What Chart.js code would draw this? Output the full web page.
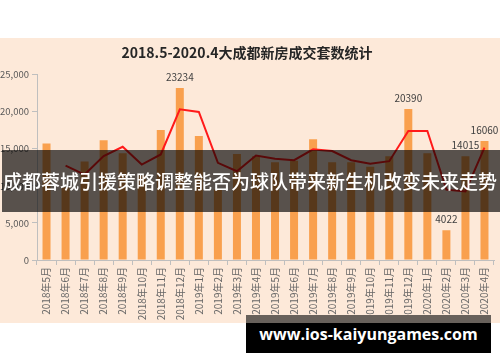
<!DOCTYPE html>
<html>
<head>
<meta charset="utf-8">
<script src="https://cdn.jsdelivr.net/npm/chart.js@4"></script>
<style>
  html,body{margin:0;padding:0;background:#fff;width:500px;height:362px;overflow:hidden;}
  #panel{position:absolute;left:0;top:38px;width:500px;height:285px;background:#fde9d9;}
  #banner{position:absolute;left:2px;top:150px;width:498px;height:62px;background:rgba(0,0,0,0.65);
    color:#fff;font:500 19px "Noto Sans CJK SC",sans-serif;line-height:62px;white-space:nowrap;overflow:hidden;padding-left:1px;}
  #site{position:absolute;left:246px;top:315px;width:245px;height:38px;background:#000;}
  #site:before{content:"";position:absolute;left:0;top:0;width:100%;height:8px;background:#68615b;}
  #site span{position:absolute;left:0;right:0;top:8px;bottom:0;text-align:center;line-height:30px;
    color:#fff;font:bold 16px "Open Sans",sans-serif;}
</style>
</head>
<body>
<div id="panel"><canvas id="c"></canvas></div>
<div id="banner">成都蓉城引援策略调整能否为球队带来新生机改变未来走势</div>
<div id="site"><span>www.ios-kaiyungames.com</span></div>
<script>
const categories = [
  "2018年5月","2018年6月","2018年7月","2018年8月","2018年9月","2018年10月","2018年11月","2018年12月",
  "2019年1月","2019年2月","2019年3月","2019年4月","2019年5月","2019年6月","2019年7月","2019年8月",
  "2019年9月","2019年10月","2019年11月","2019年12月","2020年1月","2020年2月","2020年3月","2020年4月"
];
const salesUnits = [
  15740, 9800, 13300, 16150, 14400, 11400, 17540, 23234,
  16750, 9500, 14300, 14000, 13200, 13400, 16300, 13200,
  13200, 12600, 14020, 20390, 14400, 4022, 14015, 16060
];
const movingAvg = [
  null, 12750, 11530, 14020, 15290, 12890, 14250, 20350,
  19990, 13120, 11980, 14110, 13660, 13470, 14930, 14700,
  13470, 12980, 13340, 17410, 17410, 9500, 9250, 15160
];
const yTicks = [0, 5000, 10000, 15000, 20000, 25000];
const labeledIdx = [7, 19, 21, 22, 23];
const chartTitle = "2018.5-2020.4大成都新房成交套数统计";

const FONT = '"Noto Sans CJK SC", sans-serif';

const barLabels = {
  id: "barLabels",
  afterDatasetsDraw(chart){
    const meta = chart.getDatasetMeta(1);
    const ctx = chart.ctx;
    ctx.save();
    ctx.font = "10px " + FONT;
    ctx.fillStyle = "#404040";
    ctx.textAlign = "center";
    ctx.textBaseline = "middle";
    labeledIdx.forEach(i => {
      const bar = meta.data[i];
      ctx.fillText(String(salesUnits[i]), bar.x, bar.y - 11);
    });
    ctx.restore();
  }
};

new Chart(document.getElementById("c"), {
  data: {
    labels: categories,
    datasets: [
      {type:"line", label:"移动平均", data:movingAvg, borderColor:"#ff1a1a", borderWidth:2,
       pointRadius:0, tension:0, order:0},
      {type:"bar", label:"成交套数", data:salesUnits, backgroundColor:"#f9a04e",
       barPercentage:0.42, categoryPercentage:1, order:1}
    ]
  },
  options: {
    responsive:true, maintainAspectRatio:false, animation:false,
    layout:{padding:{left:0,right:6,top:0,bottom:0}},
    plugins:{
      legend:{display:false},
      tooltip:{enabled:false},
      title:{display:true, text:chartTitle, color:"#262626",
        font:{family:FONT, size:14, weight:"bold"}, padding:{top:6,bottom:14}}
    },
    scales:{
      x:{
        grid:{drawOnChartArea:false, drawTicks:true, tickLength:5, color:"#bfbfbf", offset:true},
        border:{display:true, color:"#bfbfbf"},
        ticks:{autoSkip:false, minRotation:90, maxRotation:90, padding:2, color:"#666",
          font:{family:FONT, size:10}},
        afterFit(s){ s.height = 63; }
      },
      y:{
        min:0, max:25000,
        grid:{drawOnChartArea:false, drawTicks:true, tickLength:5, color:"#bfbfbf"},
        border:{display:true, color:"#bfbfbf"},
        ticks:{padding:3, color:"#595959", font:{family:FONT, size:9.5}},
        afterBuildTicks(s){ s.ticks = yTicks.map(v => ({value:v})); },
        afterFit(s){ s.width = 37; }
      }
    }
  },
  plugins:[barLabels]
});
</script>
</body>
</html>
